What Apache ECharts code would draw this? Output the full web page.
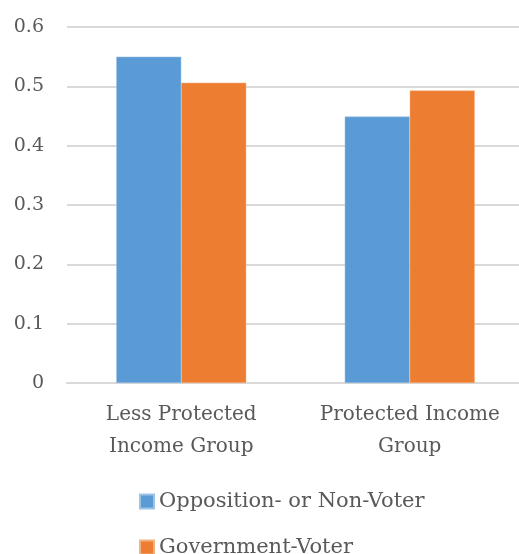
<!DOCTYPE html>
<html>
<head>
<meta charset="utf-8">
<script src="https://cdn.jsdelivr.net/npm/echarts@6/dist/echarts.min.js"></script>
<style>
  html, body { margin: 0; padding: 0; background: #fff; }
  #chart { width: 519px; height: 554px; }
</style>
</head>
<body>
<div id="chart"></div>
<script>
// categories and series values
const categories = ['Less Protected\nIncome Group', 'Protected Income\nGroup']
const opposition = [0.55, 0.449]
const government = [0.506, 0.493]
const seriesNames = ['Opposition- or Non-Voter', 'Government-Voter']

const font = 'DejaVu Serif'
const textColor = '#595959'
const chart = echarts.init(document.getElementById('chart'))

// one legend per row, the second row runs off the bottom like the original
const legendRow = (name, top) => ({
  left: 134,
  top: top,
  itemWidth: 14,
  itemHeight: 14,
  itemGap: 0,
  icon: 'rect',
  textStyle: { fontFamily: font, fontSize: 21, color: textColor },
  data: [name]
})

const option = {
  animation: false,
  textStyle: { fontFamily: font },
  grid: {
    top: 27,
    bottom: 171,
    left: 67,
    width: 457, // plot area runs a little past the right edge
    outerBoundsMode: 'none'
  },
  legend: [
    legendRow(seriesNames[0], 486),
    legendRow(seriesNames[1], 532)
  ],
  xAxis: {
    type: 'category',
    data: categories,
    axisLine: { lineStyle: { color: '#d9d9d9', width: 2 } },
    axisTick: { show: false },
    axisLabel: {
      interval: 0,
      margin: 16,
      fontFamily: font,
      fontSize: 20,
      lineHeight: 32,
      color: textColor
    }
  },
  yAxis: {
    type: 'value',
    min: 0,
    max: 0.6,
    interval: 0.1,
    axisLine: { show: false },
    axisTick: { show: false },
    axisLabel: {
      margin: 23,
      align: 'right',
      fontFamily: font,
      fontSize: 19,
      color: textColor,
      formatter: v => (v === 0 ? '0' : v.toFixed(1))
    },
    splitLine: { lineStyle: { color: '#d9d9d9', width: 2 } }
  },
  series: [
    {
      name: seriesNames[0],
      type: 'bar',
      barGap: '0%',
      barWidth: 65,
      itemStyle: { color: '#5b9bd5', borderColor: '#9cc3e6', borderWidth: 0.5 },
      data: opposition
    },
    {
      name: seriesNames[1],
      type: 'bar',
      barWidth: 65,
      itemStyle: { color: '#ed7d31', borderColor: '#f4b183', borderWidth: 0.5 },
      data: government
    }
  ]
}
chart.setOption(option)
</script>
</body>
</html>
